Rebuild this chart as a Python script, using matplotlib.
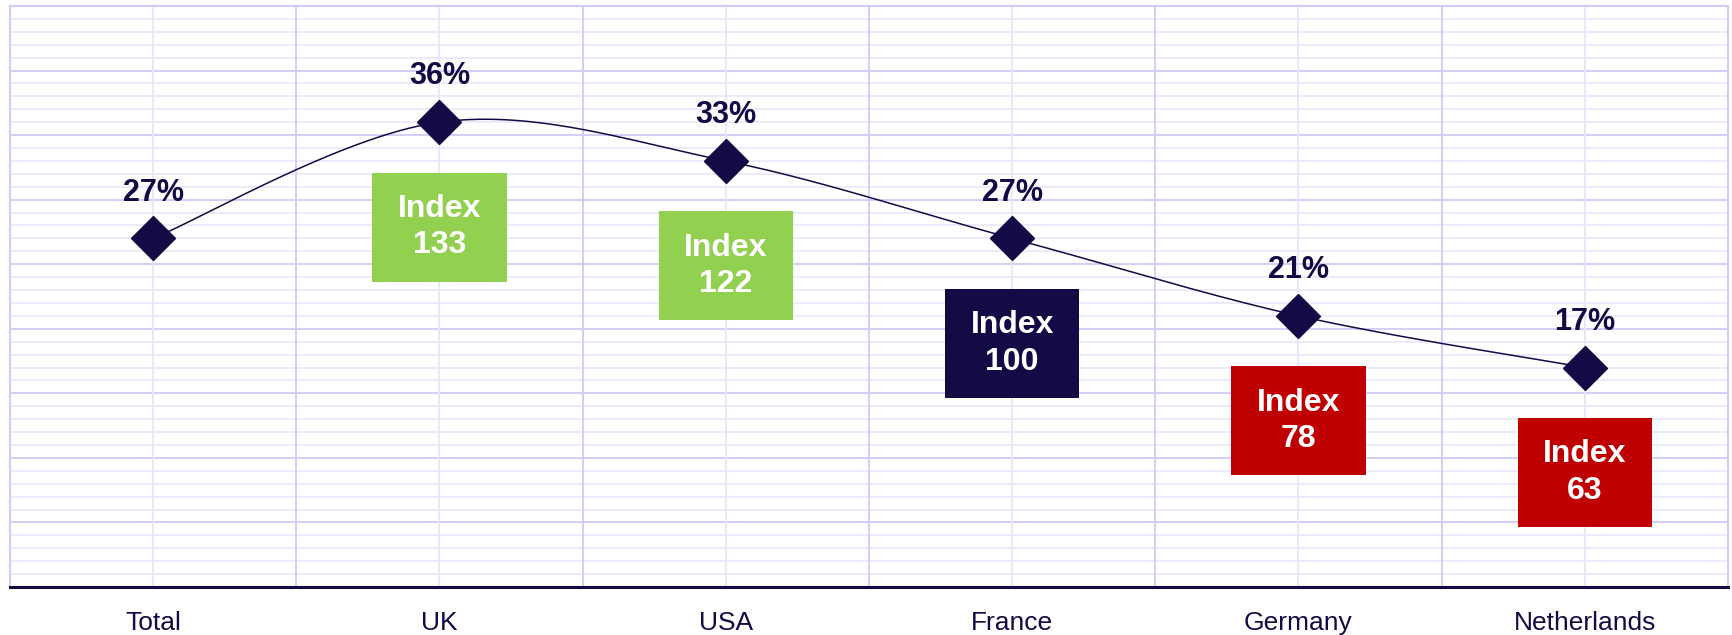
import matplotlib
matplotlib.use("Agg")
import matplotlib.pyplot as plt
from matplotlib.patches import Rectangle
import numpy as np

plt.rcParams['font.family'] = ['Liberation Sans', 'DejaVu Sans']

markets = ["Total", "UK", "USA", "France", "Germany", "Netherlands"]
share = [27, 36, 33, 27, 21, 17]
index_vals = [None, 133, 122, 100, 78, 63]

NAVY = "#140A46"
GREEN = "#92D050"
RED = "#C00000"
GRID_MAJOR = "#CDCDF7"
GRID_MINOR = "#E6E6FC"


def smooth(xs, ys, n=60):
    # Excel-style smoothed line: cubic Bezier with control points at 1/6 of neighbour span
    pts = np.column_stack([xs, ys]).astype(float)
    ext = np.vstack([pts[0], pts, pts[-1]])
    out = []
    t = np.linspace(0, 1, n)[:, None]
    for i in range(len(pts) - 1):
        p0, p1, p2, p3 = ext[i], ext[i + 1], ext[i + 2], ext[i + 3]
        c1 = p1 + (p2 - p0) / 6
        c2 = p2 - (p3 - p1) / 6
        seg = ((1 - t) ** 3) * p1 + 3 * ((1 - t) ** 2) * t * c1 + 3 * (1 - t) * t ** 2 * c2 + t ** 3 * p2
        out.append(seg if i == 0 else seg[1:])
    out = np.vstack(out)
    return out[:, 0], out[:, 1]


fig = plt.figure(figsize=(17.33, 6.35), dpi=100)
ax = fig.add_axes([10 / 1733, 48 / 635, 1718 / 1733, 581 / 635])

x = np.arange(len(markets))
ax.set_xlim(-0.5, len(markets) - 0.5)
ax.set_ylim(0, 45)

# grid
for yv in np.arange(1, 45):
    ax.axhline(yv, color=GRID_MAJOR if yv % 5 == 0 else GRID_MINOR,
               lw=1.3 if yv % 5 == 0 else 1.1, zorder=0)
for xv in x:
    ax.axvline(xv, color=GRID_MINOR, lw=1.3, zorder=0)
for xv in x[:-1] + 0.5:
    ax.axvline(xv, color=GRID_MAJOR, lw=1.3, zorder=0)

sx, sy = smooth(x, share)
ax.plot(sx, sy, color=NAVY, lw=1.1, zorder=3)
ax.plot(x, share, ls="none", marker="D", ms=22, color=NAVY, zorder=4)

for xi, v in zip(x, share):
    ax.annotate(f"{v}%", (xi, v), xytext=(0, 33), textcoords="offset points",
                ha="center", va="center", fontsize=22, fontweight="bold", color=NAVY)

box_w = 0.47
box_h = 8.45
box_gap = 3.9
for xi, v, idx in zip(x, share, index_vals):
    if idx is None:
        continue
    col = GREEN if idx > 100 else (NAVY if idx == 100 else RED)
    top = v - box_gap
    ax.add_patch(Rectangle((xi - box_w / 2, top - box_h), box_w, box_h,
                           facecolor=col, edgecolor="none", zorder=5))
    ax.text(xi, top - box_h / 2, f"Index\n{idx}", ha="center", va="center",
            fontsize=23, fontweight="bold", color="white", linespacing=1.28, zorder=6)

ax.set_xticks(x)
ax.set_xticklabels(markets, fontsize=19, color=NAVY)
ax.tick_params(axis="x", length=0, pad=17)
ax.set_yticks([])

for side in ("left", "right", "top"):
    ax.spines[side].set_color(GRID_MAJOR)
    ax.spines[side].set_linewidth(1.5)
ax.spines["bottom"].set_color(NAVY)
ax.spines["bottom"].set_linewidth(2.2)
ax.spines["bottom"].set_zorder(7)

fig.savefig("out.png", dpi=100, facecolor="white")
